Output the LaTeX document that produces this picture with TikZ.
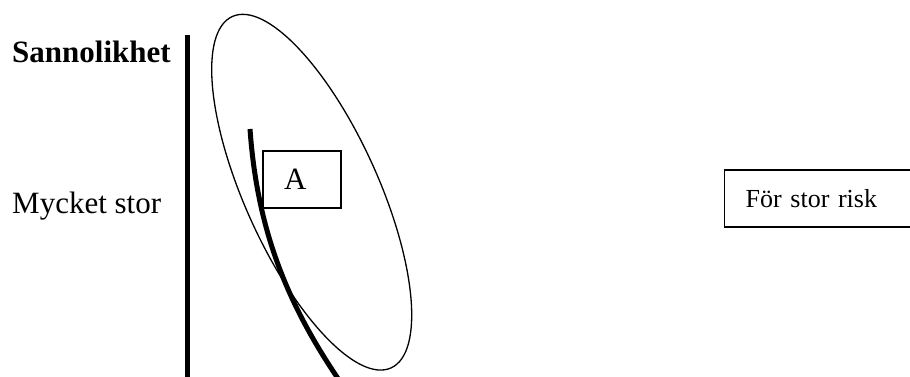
\documentclass[tikz,border=0pt]{standalone}
\usepackage{fontspec}
\setmainfont{Liberation Serif}
\usepackage{tikz}
\usetikzlibrary{shapes.geometric}
\tikzset{
  lbl/.style={anchor=base west,inner sep=0pt,font=\fontsize{31}{36}\selectfont},
  axisline/.style={draw=black,line width=5pt},
  zone/.style={ellipse,draw=black,line width=1.3pt,minimum width=133.6pt,minimum height=385.6pt,inner sep=0pt},
  curve/.style={draw=black,line width=5pt},
  riskbox/.style={rectangle,draw=black,fill=white,line width=1.3pt,inner xsep=21pt,inner ysep=0pt,align=left},
}
\begin{document}
\begin{tikzpicture}[x=1pt,y=-1pt]
        \useasboundingbox (0,0) rectangle (910,377);
        \node[lbl,font=\fontsize{31}{36}\selectfont\bfseries] (sann) at (12,63) {Sannolikhet};
        \node[lbl] (stor) at (12,213) {Mycket stor};
        \coordinate (axtop) at (187,35);
        \coordinate (axbot) at (187,380);
        \draw[axisline] (axtop)--(axbot);
        \node[zone,rotate=24.3] (omr) at (311.7,192.2) {};
        \coordinate (cstart) at (250,129);
        \coordinate (cend) at (339,380);
        \draw[curve] (cstart) .. controls (257,228) and (286,302) .. (cend);
        \node[riskbox,text width=36pt,minimum height=57pt,font=\fontsize{31}{36}\selectfont] (boxA) at (302,179.5) {A};
        \node[riskbox,anchor=west,text width=146pt,minimum height=57pt,font=\fontsize{26}{30}\selectfont] (forstor) at (724,198.5) {För stor risk};
      \end{tikzpicture}
\end{document}
